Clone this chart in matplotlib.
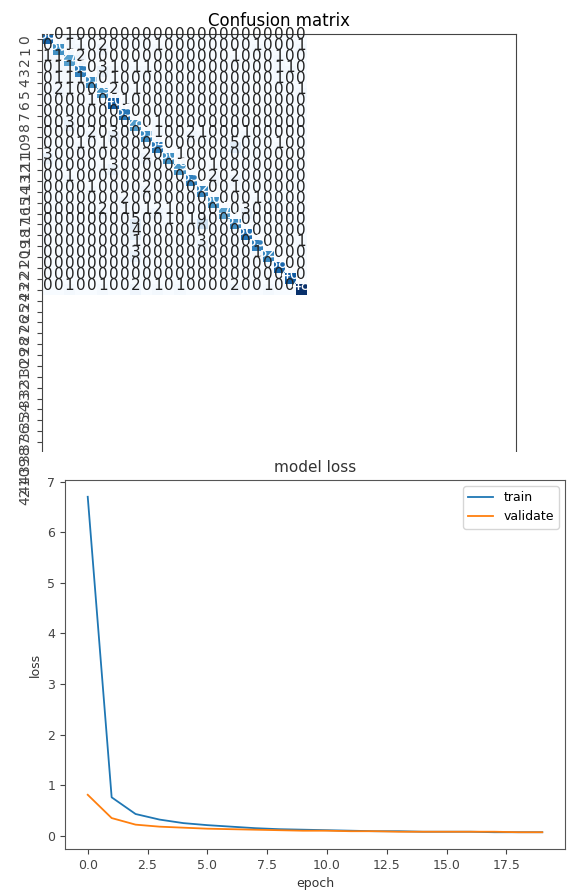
import matplotlib
matplotlib.use("Agg")
import matplotlib.pyplot as plt
from matplotlib.patches import Rectangle
import numpy as np

# ---------------- data ----------------
n_classes = 43
class_labels = [str(i) for i in range(n_classes)]

cm_rows = [
    [38,0,1,0,0,0,0,0,0,0,0,0,0,0,0,0,0,0,0,0,0,0,0,0],
    [0,30,1,1,0,2,0,0,0,0,1,0,0,0,0,0,0,0,0,1,0,0,0,1],
    [1,1,27,2,0,0,0,0,0,0,0,0,0,0,0,0,0,1,0,0,0,1,0,0],
    [0,1,1,33,0,3,1,0,1,1,0,0,0,0,0,0,0,0,0,0,0,1,1,0],
    [0,1,1,1,31,0,1,0,0,0,0,0,0,0,0,0,0,0,0,0,0,1,0,0],
    [0,2,1,0,0,29,2,0,1,0,0,0,0,0,0,0,0,0,0,0,0,0,0,1],
    [0,0,0,0,1,0,40,1,0,0,0,0,0,0,0,0,0,0,0,0,0,0,0,0],
    [0,0,0,0,0,0,0,35,0,0,0,0,0,0,0,0,0,0,0,0,0,0,0,0],
    [0,0,3,0,0,0,0,0,28,0,1,0,0,0,0,0,0,0,0,0,0,0,0,0],
    [0,0,0,0,2,0,3,0,0,31,1,0,0,2,1,0,0,0,1,0,0,0,0,0],
    [0,0,0,1,0,1,0,0,0,0,34,0,0,0,0,0,0,5,0,0,0,1,0,0],
    [3,0,0,0,0,0,0,0,0,2,0,30,1,0,0,0,0,0,0,0,0,0,0,0],
    [0,0,0,0,0,1,3,0,0,0,0,0,29,0,0,1,0,0,0,0,0,0,0,0],
    [0,0,1,0,0,0,0,0,0,0,0,0,0,33,0,2,0,2,0,0,0,0,0,0],
    [0,0,0,0,1,0,0,0,0,2,0,0,0,0,32,0,0,1,0,0,0,0,0,0],
    [0,0,0,0,0,0,0,2,0,0,0,0,0,0,0,30,0,0,0,1,0,0,0,0],
    [0,0,0,0,0,2,0,1,0,1,2,1,0,0,0,0,27,0,3,0,0,0,0,0],
    [0,0,0,0,0,0,0,0,5,0,0,1,0,1,9,0,0,31,0,0,0,0,0,0],
    [0,0,0,0,0,0,0,0,4,0,0,0,0,0,0,0,0,0,36,0,0,0,0,0],
    [0,0,0,0,0,0,0,0,1,0,0,0,0,0,3,0,0,0,0,33,0,0,0,1],
    [0,0,0,0,0,0,0,0,3,0,0,0,0,0,0,0,0,0,0,1,32,0,0,0],
    [0,0,0,0,0,0,0,0,0,0,0,0,0,0,0,0,0,0,0,0,0,38,0,0],
    [0,0,0,0,0,0,0,0,0,0,0,0,0,0,0,0,0,0,0,0,0,0,40,0],
    [0,0,1,0,0,1,0,0,2,0,1,0,1,0,0,0,0,2,0,0,1,0,0,48],
]

epochs = list(range(20))
train_loss = [6.70, 0.76, 0.43, 0.32, 0.25, 0.21, 0.18, 0.15, 0.13, 0.12,
              0.11, 0.10, 0.09, 0.09, 0.08, 0.08, 0.08, 0.07, 0.07, 0.07]
val_loss = [0.81, 0.35, 0.22, 0.18, 0.16, 0.14, 0.13, 0.12, 0.11, 0.10,
            0.10, 0.09, 0.09, 0.08, 0.08, 0.08, 0.08, 0.08, 0.07, 0.07]

# ---------------- figure ----------------
W, H = 567, 894
fig = plt.figure(figsize=(W / 100, H / 100), dpi=100)

def px_axes(left, top, right, bottom):
    return [left / W, 1 - bottom / H, (right - left) / W, (bottom - top) / H]

cm = np.array(cm_rows)
ax1 = fig.add_axes(px_axes(42, 34, 516, 502))
ax1.imshow(cm, cmap=plt.cm.Blues, interpolation="nearest", aspect="auto")
ax1.set_title("Confusion matrix", fontsize=12)
ticks = np.arange(n_classes)
ax1.set_xticks(ticks)
ax1.set_xticklabels(class_labels, rotation=45, fontsize=10)
ax1.set_yticks(ticks)
ax1.set_yticklabels(class_labels, rotation=90, fontsize=10, va="center",
                    color="#333333")
ax1.tick_params(colors="#444444")
for s in ax1.spines.values():
    s.set_color("#444444")
ax1.set_xlim(-0.5, n_classes - 0.5)
ax1.set_ylim(n_classes - 0.5, -0.5)
thresh = cm.max() / 2.0
for i in range(cm.shape[0]):
    for j in range(cm.shape[1]):
        ax1.text(j, i, str(cm[i, j]), ha="center", va="baseline", fontsize=11,
                 color="white" if cm[i, j] > thresh else "#222222")

# white background of the lower panel, covering the lower part of the matrix axes
fig.patches.append(Rectangle((30 / W, 0), 1 - 30 / W, 1 - 452 / H,
                             transform=fig.transFigure, facecolor="white",
                             edgecolor="none", zorder=1))

ax2 = fig.add_axes(px_axes(65, 480, 565, 849))
ax2.set_zorder(2)
ax2.plot(epochs, train_loss, label="train", linewidth=1.3)
ax2.plot(epochs, val_loss, label="validate", linewidth=1.3)
ax2.set_title("model loss", fontsize=11, color="#333333")
ax2.set_ylabel("loss", fontsize=9, color="#333333")
ax2.set_xlabel("epoch", fontsize=9, labelpad=4, color="#333333")
ax2.tick_params(labelsize=9, colors="#444444")
for s in ax2.spines.values():
    s.set_color("#555555")
ax2.legend(loc="upper right", fontsize=9)

fig.savefig("out.png", dpi=100)
